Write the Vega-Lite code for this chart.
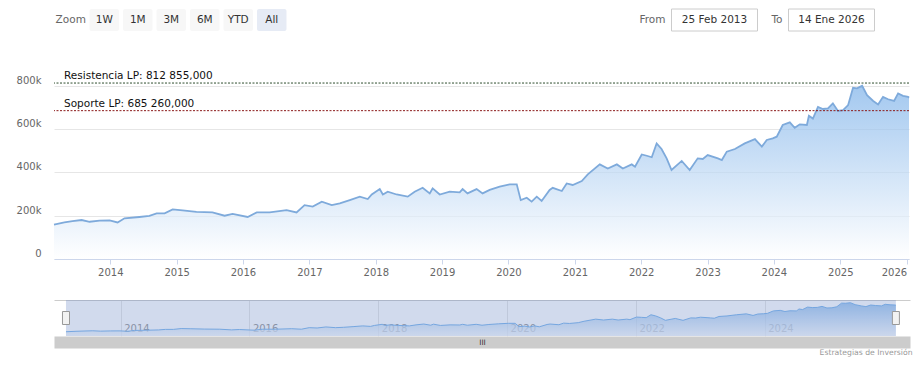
{
  "$schema": "https://vega.github.io/schema/vega-lite/v6.json",
  "background": "white",
  "padding": {"left": 0, "top": 8, "right": 8, "bottom": 0},
  "spacing": 0,
  "title": {"text": "Estrategias de Inversión", "orient": "bottom", "anchor": "end", "fontSize": 7.7, "fontWeight": "normal", "color": "#999999", "offset": 1, "font": "DejaVu Sans"},
  "config": {"view": {"stroke": null}, "font": "DejaVu Sans"},
  "datasets": {
    "buttons": [{"label": "Zoom"}, {"label": "1W"}, {"label": "1M"}, {"label": "3M"}, {"label": "6M"}, {"label": "YTD"}, {"label": "All"}],
    "range": [
      {"label": "From", "text": "25 Feb 2013", "date": "2013-02-25"},
      {"label": "To", "text": "14 Ene 2026", "date": "2026-01-14"}
    ],
    "levels": [
      {"name": "Resistencia LP", "value": 812855, "label": "Resistencia LP: 812 855,000"},
      {"name": "Soporte LP", "value": 685260, "label": "Soporte LP: 685 260,000"}
    ],
    "series": [
      {"date": "2013-02-25", "value": 159000}, {"date": "2013-04-23", "value": 169000}, {"date": "2013-06-07", "value": 175000},
      {"date": "2013-07-27", "value": 180000}, {"date": "2013-09-09", "value": 172000}, {"date": "2013-11-03", "value": 177000},
      {"date": "2013-12-28", "value": 178000}, {"date": "2014-02-10", "value": 169000}, {"date": "2014-03-20", "value": 188000},
      {"date": "2014-06-10", "value": 194000}, {"date": "2014-08-04", "value": 199000}, {"date": "2014-09-13", "value": 211000},
      {"date": "2014-10-27", "value": 211000}, {"date": "2014-12-10", "value": 229000}, {"date": "2015-02-03", "value": 225000},
      {"date": "2015-04-20", "value": 218000}, {"date": "2015-07-17", "value": 215000}, {"date": "2015-09-22", "value": 200000},
      {"date": "2015-11-05", "value": 208000}, {"date": "2016-01-27", "value": 194000}, {"date": "2016-03-17", "value": 215000},
      {"date": "2016-05-27", "value": 215000}, {"date": "2016-08-28", "value": 226000}, {"date": "2016-10-22", "value": 215000},
      {"date": "2016-12-05", "value": 249000}, {"date": "2017-01-19", "value": 242000}, {"date": "2017-03-10", "value": 265000},
      {"date": "2017-05-04", "value": 249000}, {"date": "2017-06-17", "value": 257000}, {"date": "2017-08-11", "value": 272000},
      {"date": "2017-10-05", "value": 288000}, {"date": "2017-11-18", "value": 277000}, {"date": "2017-12-10", "value": 298000},
      {"date": "2018-01-23", "value": 323000}, {"date": "2018-02-09", "value": 298000}, {"date": "2018-03-08", "value": 311000},
      {"date": "2018-04-26", "value": 298000}, {"date": "2018-06-26", "value": 288000}, {"date": "2018-08-03", "value": 311000},
      {"date": "2018-09-16", "value": 329000}, {"date": "2018-10-25", "value": 303000}, {"date": "2018-11-10", "value": 326000},
      {"date": "2018-12-19", "value": 298000}, {"date": "2019-02-12", "value": 311000}, {"date": "2019-04-08", "value": 308000},
      {"date": "2019-04-24", "value": 323000}, {"date": "2019-05-21", "value": 303000}, {"date": "2019-07-10", "value": 323000},
      {"date": "2019-08-12", "value": 303000}, {"date": "2019-09-20", "value": 319000}, {"date": "2019-11-14", "value": 334000},
      {"date": "2020-01-08", "value": 345000}, {"date": "2020-02-16", "value": 345000}, {"date": "2020-03-09", "value": 272000},
      {"date": "2020-04-11", "value": 283000}, {"date": "2020-05-08", "value": 265000}, {"date": "2020-06-05", "value": 288000},
      {"date": "2020-07-02", "value": 268000}, {"date": "2020-08-15", "value": 319000}, {"date": "2020-09-01", "value": 329000},
      {"date": "2020-10-21", "value": 314000}, {"date": "2020-11-17", "value": 349000}, {"date": "2020-12-20", "value": 342000},
      {"date": "2021-02-08", "value": 360000}, {"date": "2021-03-13", "value": 391000}, {"date": "2021-05-18", "value": 437000},
      {"date": "2021-07-01", "value": 418000}, {"date": "2021-08-20", "value": 437000}, {"date": "2021-09-22", "value": 418000},
      {"date": "2021-11-10", "value": 437000}, {"date": "2021-11-28", "value": 426000}, {"date": "2022-01-04", "value": 483000},
      {"date": "2022-02-01", "value": 477000}, {"date": "2022-02-28", "value": 470000}, {"date": "2022-03-27", "value": 534000},
      {"date": "2022-04-23", "value": 508000}, {"date": "2022-05-21", "value": 465000}, {"date": "2022-06-17", "value": 411000},
      {"date": "2022-08-12", "value": 453000}, {"date": "2022-09-25", "value": 411000}, {"date": "2022-11-08", "value": 465000},
      {"date": "2022-12-06", "value": 462000}, {"date": "2023-01-02", "value": 480000}, {"date": "2023-02-27", "value": 465000},
      {"date": "2023-03-21", "value": 457000}, {"date": "2023-04-17", "value": 496000}, {"date": "2023-06-01", "value": 508000},
      {"date": "2023-07-25", "value": 534000}, {"date": "2023-09-19", "value": 554000}, {"date": "2023-10-27", "value": 519000},
      {"date": "2023-11-23", "value": 550000}, {"date": "2023-12-26", "value": 557000}, {"date": "2024-01-17", "value": 565000},
      {"date": "2024-02-19", "value": 619000}, {"date": "2024-03-29", "value": 631000}, {"date": "2024-04-25", "value": 606000},
      {"date": "2024-05-23", "value": 622000}, {"date": "2024-07-01", "value": 619000}, {"date": "2024-07-12", "value": 662000},
      {"date": "2024-08-03", "value": 649000}, {"date": "2024-08-31", "value": 703000}, {"date": "2024-09-27", "value": 693000},
      {"date": "2024-10-25", "value": 696000}, {"date": "2024-11-21", "value": 719000}, {"date": "2024-12-19", "value": 684000},
      {"date": "2025-01-16", "value": 688000}, {"date": "2025-02-13", "value": 711000}, {"date": "2025-03-12", "value": 791000},
      {"date": "2025-04-03", "value": 788000}, {"date": "2025-05-01", "value": 800000}, {"date": "2025-05-28", "value": 757000},
      {"date": "2025-07-01", "value": 730000}, {"date": "2025-07-28", "value": 714000}, {"date": "2025-08-24", "value": 749000},
      {"date": "2025-09-21", "value": 738000}, {"date": "2025-10-24", "value": 730000}, {"date": "2025-11-15", "value": 765000},
      {"date": "2025-12-12", "value": 754000}, {"date": "2026-01-09", "value": 749000}, {"date": "2026-01-14", "value": 745000}
    ]
  },
  "vconcat": [
    {
      "bounds": "flush",
      "spacing": 382.5,
      "hconcat": [
        {
          "width": 234.5,
          "height": 22,
          "data": {"name": "buttons"},
          "encoding": {
            "x": {"field": "label", "type": "nominal", "sort": null, "axis": null,
                  "scale": {"domain": ["Zoom", "1W", "1M", "3M", "6M", "YTD", "All"], "paddingInner": 0.12, "paddingOuter": 0.06}}
          },
          "layer": [
            {
              "transform": [{"filter": "datum.label !== 'Zoom'"}],
              "mark": {"type": "rect", "cornerRadius": 2},
              "encoding": {"color": {"condition": {"test": "datum.label === 'All'", "value": "#e6ebf5"}, "value": "#f7f7f7"}}
            },
            {
              "mark": {"type": "text", "fontSize": 10.5},
              "encoding": {
                "text": {"field": "label"},
                "color": {"condition": {"test": "datum.label === 'Zoom'", "value": "#666666"}, "value": "#333333"},
                "fontWeight": {"condition": {"test": "datum.label === 'All'", "value": "bold"}, "value": "normal"}
              }
            }
          ]
        },
        {
          "width": 203,
          "height": 22,
          "data": {"name": "range"},
          "encoding": {
            "x": {"field": "label", "type": "nominal", "sort": null, "axis": null,
                  "scale": {"domain": ["From", "To"], "paddingInner": 0.265, "paddingOuter": 0}}
          },
          "layer": [
            {"mark": {"type": "rect", "fill": "white", "stroke": "#cccccc", "strokeWidth": 1}},
            {"mark": {"type": "text", "fontSize": 10.5, "color": "#333333"}, "encoding": {"text": {"field": "text"}}},
            {
              "mark": {"type": "text", "fontSize": 10.5, "color": "#666666", "align": "right", "dx": -6},
              "encoding": {
                "x": {"field": "label", "type": "nominal", "sort": null, "axis": null, "bandPosition": 0},
                "text": {"field": "label"}
              }
            }
          ]
        }
      ]
    },
    {
      "width": 855,
      "height": 184,
      "layer": [
        {
          "data": {"name": "series"},
          "mark": {
            "type": "area",
            "fill": {"gradient": "linear", "x1": 0, "y1": 0, "x2": 0, "y2": 1,
                     "stops": [{"offset": 0, "color": "#7cb1e9"}, {"offset": 1, "color": "#ffffff"}]},
            "line": {"color": "#7eaadb", "strokeWidth": 1.8}
          },
          "encoding": {
            "x": {
              "field": "date", "type": "temporal",
              "scale": {"domain": [{"year": 2013, "month": 2, "date": 25}, {"year": 2026, "month": 1, "date": 14}], "nice": false},
              "axis": {
                "orient": "bottom", "title": null, "format": "%Y", "grid": false,
                "values": [{"year": 2014}, {"year": 2015}, {"year": 2016}, {"year": 2017}, {"year": 2018}, {"year": 2019}, {"year": 2020}, {"year": 2021}, {"year": 2022}, {"year": 2023}, {"year": 2024}, {"year": 2025}, {"year": 2026}],
                "domainColor": "#ccd6eb", "tickColor": "#ccd6eb", "tickSize": 5,
                "labelColor": "#666666", "labelFontSize": 10, "labelPadding": 3, "labelFlush": 5,
                "minExtent": 41, "maxExtent": 41
              }
            },
            "y": {
              "field": "value", "type": "quantitative",
              "scale": {"domain": [0, 850000], "nice": false},
              "axis": {
                "title": null, "values": [0, 200000, 400000, 600000, 800000],
                "labelExpr": "datum.value === 0 ? '0' : format(datum.value / 1000, 'd') + 'k'",
                "domain": false, "ticks": false, "gridColor": "#e6e6e6",
                "labelColor": "#666666", "labelFontSize": 10, "labelPadding": 13, "labelOffset": -5.5,
                "minExtent": 54, "maxExtent": 54
              }
            }
          }
        },
        {
          "data": {"name": "levels"},
          "mark": {"type": "rule", "strokeDash": [2, 1.5], "strokeWidth": 1},
          "encoding": {
            "y": {"field": "value", "type": "quantitative"},
            "color": {"field": "name", "type": "nominal", "legend": null,
                      "scale": {"domain": ["Resistencia LP", "Soporte LP"], "range": ["#2e4d2e", "#8b1a1a"]}}
          }
        },
        {
          "data": {"name": "levels"},
          "mark": {"type": "text", "align": "left", "baseline": "alphabetic", "dx": 10, "dy": -4, "fontSize": 10.5, "color": "#111111"},
          "encoding": {
            "x": {"datum": {"year": 2013, "month": 2, "date": 25}, "type": "temporal",
                  "axis": {"orient": "top", "title": null, "labels": false, "ticks": false, "domain": false, "grid": false, "minExtent": 43, "maxExtent": 43}},
            "y": {"field": "value", "type": "quantitative"},
            "text": {"field": "label"}
          }
        }
      ],
      "resolve": {"axis": {"x": "independent"}}
    },
    {
      "width": 856,
      "height": 36,
      "layer": [
        {
          "data": {"name": "series"},
          "mark": {
            "type": "area", "clip": true,
            "fill": {"gradient": "linear", "x1": 0, "y1": 0, "x2": 0, "y2": 1,
                     "stops": [{"offset": 0, "color": "#7cb1e9"}, {"offset": 1, "color": "#ffffff"}]},
            "line": {"color": "#7cb5ec", "strokeWidth": 1}
          },
          "encoding": {
            "x": {
              "field": "date", "type": "temporal",
              "scale": {"domain": [{"year": 2012, "month": 12, "date": 19}, {"year": 2026, "month": 4, "date": 4}], "nice": false},
              "axis": {
                "orient": "bottom", "format": "%Y",
                "values": [{"year": 2014}, {"year": 2016}, {"year": 2018}, {"year": 2020}, {"year": 2022}, {"year": 2024}],
                "grid": true, "gridColor": "#e6e6e6", "ticks": false, "tickSize": 0,
                "domain": true, "domainColor": "#cccccc", "domainWidth": 12, "offset": 6,
                "labelAlign": "left", "labelBaseline": "middle", "labelPadding": -14, "labelOffset": 3,
                "labelColor": "#999999", "labelFontSize": 10, "labelFlush": false, "labelOverlap": false,
                "title": "III", "titleFontSize": 7.5, "titleFontWeight": "normal", "titleColor": "#333333",
                "titlePadding": -6, "titleBaseline": "middle",
                "minExtent": 6, "maxExtent": 6, "zindex": 0
              }
            },
            "y": {"field": "value", "type": "quantitative", "scale": {"domain": [65000, 860000], "zero": false, "nice": false}, "axis": null}
          }
        },
        {
          "data": {"name": "range"},
          "mark": {"type": "rect", "fill": "#6685c2", "opacity": 0.3},
          "encoding": {
            "x": {"aggregate": "min", "field": "date", "type": "temporal",
                  "axis": {"orient": "top", "title": null, "labels": false, "ticks": false, "grid": false, "domain": true, "domainColor": "#cccccc"}},
            "x2": {"aggregate": "max", "field": "date"}
          }
        },
        {
          "data": {"name": "range"},
          "mark": {"type": "point", "shape": "M-0.54,-1L0.54,-1L0.54,1L-0.54,1Z", "size": 169, "filled": true,
                   "fill": "#f2f2f2", "stroke": "#999999", "strokeWidth": 1, "opacity": 1},
          "encoding": {"x": {"field": "date", "type": "temporal", "axis": null}}
        }
      ],
      "resolve": {"axis": {"x": "independent"}}
    }
  ]
}
